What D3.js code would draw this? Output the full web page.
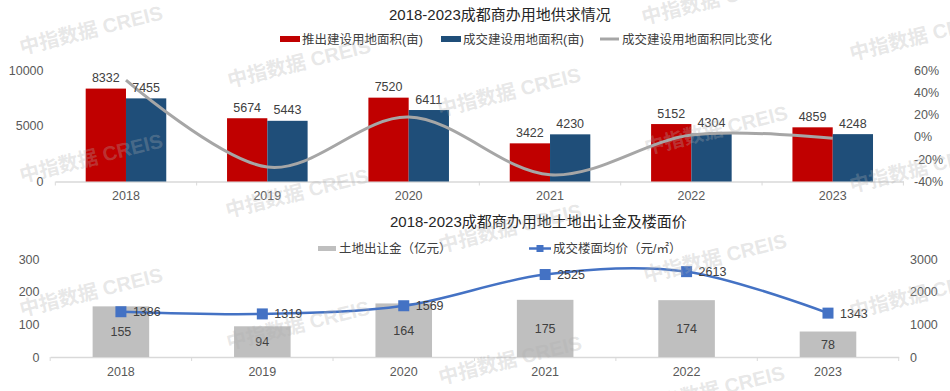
<!DOCTYPE html>
<html><head><meta charset="utf-8">
<script src="https://cdn.jsdelivr.net/npm/d3@7"></script>
<style>
body{margin:0;background:#fff}
svg{display:block}
text{font-family:"Liberation Sans","Noto Sans CJK SC",sans-serif}
</style>
</head><body>
<svg id="c" width="950" height="391"></svg>
<script>
// ---------- data ----------
const years = ["2018","2019","2020","2021","2022","2023"];
const supplyArea = [8332,5674,7520,3422,5152,4859];      // 推出建设用地面积(亩)
const dealArea   = [7455,5443,6411,4230,4304,4248];      // 成交建设用地面积(亩)
const dealYoY    = [51,-27.0,17.8,-34.0,1.7,-1.3];       // 成交建设用地面积同比变化 (%)
const landRevenue = [155,94,164,175,174,78];             // 土地出让金（亿元）
const floorPrice  = [1386,1319,1569,2525,2613,1343];     // 成交楼面均价（元/㎡）
const leftTicks1  = [0,5000,10000];
const rightTicks1 = [-40,-20,0,20,40,60];
const leftTicks2  = [0,100,200,300];
const rightTicks2 = [0,1000,2000,3000];

const title1 = "2018-2023成都商办用地供求情况";
const title2 = "2018-2023成都商办用地土地出让金及楼面价";
const legend1 = ["推出建设用地面积(亩)","成交建设用地面积(亩)","成交建设用地面积同比变化"];
const legend2 = ["土地出让金（亿元）","成交楼面均价（元/㎡）"];

const C_RED="#c00000", C_NAVY="#1f4e79", C_GRAYLINE="#a6a6a6", C_GRAYBAR="#bfbfbf", C_BLUE="#4472c4";
const AXIS_TXT="#595959", LBL_TXT="#404040", AXIS_LINE="#d9d9d9";

const svg = d3.select("#c");
const plain = d => String(d);

function styleAxis(g, fs){
  g.select(".domain").remove();
  g.selectAll("text").attr("fill",AXIS_TXT).style("font-size",fs+"px");
}

// ---------- chart 1 ----------
{
  const x = d3.scaleBand().domain(years).range([55.3,903.4]);
  const y = d3.scaleLinear().domain([0,10000]).range([181.5,70]);
  const yr = d3.scaleLinear().domain([-40,60]).range([181.5,70]);
  const bw = x.bandwidth()*0.285;
  const cx = d => x(d)+x.bandwidth()/2;

  svg.append("text").attr("x",389).attr("y",20).attr("fill","#262626")
    .style("font-size","15px").text(title1);

  // legend
  const lg = svg.append("g");
  lg.append("rect").attr("x",280).attr("y",36).attr("width",20).attr("height",6).attr("fill",C_RED);
  lg.append("text").attr("x",302).attr("y",43.5).text(legend1[0]);
  lg.append("rect").attr("x",441).attr("y",36).attr("width",20).attr("height",6).attr("fill",C_NAVY);
  lg.append("text").attr("x",463).attr("y",43.5).text(legend1[1]);
  lg.append("line").attr("x1",600).attr("x2",619).attr("y1",39).attr("y2",39).attr("stroke",C_GRAYLINE).attr("stroke-width",3);
  lg.append("text").attr("x",622).attr("y",43.5).text(legend1[2]);
  lg.selectAll("text").attr("fill","#404040").style("font-size","12.5px");

  // axes
  const gx = svg.append("g").attr("transform","translate(0,181.5)")
    .call(d3.axisBottom(x).tickSize(0).tickPadding(10));
  gx.select(".domain").attr("stroke",AXIS_LINE).attr("stroke-width",1.3);
  gx.selectAll("text").attr("fill",AXIS_TXT).style("font-size","12.5px");
  const bounds = years.map(d=>x(d)).concat([x.range()[1]]);
  gx.selectAll(".bt").data(bounds).enter().append("line")
    .attr("x1",d=>d).attr("x2",d=>d).attr("y1",0).attr("y2",4).attr("stroke",AXIS_LINE);

  svg.append("g").attr("transform","translate(43.5,0)")
    .call(d3.axisLeft(y).tickValues(leftTicks1).tickFormat(plain).tickSize(0).tickPadding(0))
    .call(g=>styleAxis(g,12.5));
  svg.append("g").attr("transform","translate(914,0)")
    .call(d3.axisRight(yr).tickValues(rightTicks1).tickFormat(d=>d+"%").tickSize(0).tickPadding(0))
    .call(g=>styleAxis(g,12.5));

  // bars
  svg.append("g").selectAll("rect").data(years).enter().append("rect")
    .attr("x",d=>cx(d)-bw).attr("width",bw)
    .attr("y",(d,i)=>y(supplyArea[i])).attr("height",(d,i)=>y(0)-y(supplyArea[i]))
    .attr("fill",C_RED);
  svg.append("g").selectAll("rect").data(years).enter().append("rect")
    .attr("x",d=>cx(d)).attr("width",bw)
    .attr("y",(d,i)=>y(dealArea[i])).attr("height",(d,i)=>y(0)-y(dealArea[i]))
    .attr("fill",C_NAVY);

  // line
  const line = d3.line().x((d,i)=>cx(years[i])).y(d=>yr(d)).curve(d3.curveCardinal.tension(0));
  svg.append("path").datum(dealYoY).attr("d",line).attr("fill","none")
    .attr("stroke",C_GRAYLINE).attr("stroke-width",3);

  // labels
  const lbl = svg.append("g").attr("fill",LBL_TXT).style("font-size","12.5px").attr("text-anchor","middle");
  lbl.selectAll(".a").data(years).enter().append("text")
    .attr("x",d=>cx(d)-bw/2).attr("y",(d,i)=>y(supplyArea[i])-6.5).text((d,i)=>supplyArea[i]);
  lbl.selectAll(".b").data(years).enter().append("text")
    .attr("x",d=>cx(d)+bw/2).attr("y",(d,i)=>y(dealArea[i])-6.5).text((d,i)=>dealArea[i]);
}

// ---------- chart 2 ----------
{
  const x = d3.scaleBand().domain(years).range([50.2,898.7]);
  const y = d3.scaleLinear().domain([0,300]).range([357,259]);
  const yr = d3.scaleLinear().domain([0,3000]).range([357,259]);
  const bw = x.bandwidth()*0.4;
  const cx = d => x(d)+x.bandwidth()/2;

  svg.append("text").attr("x",390).attr("y",227).attr("fill","#262626")
    .style("font-size","15px").text(title2);

  const lg = svg.append("g");
  lg.append("rect").attr("x",318).attr("y",246).attr("width",18).attr("height",5).attr("fill",C_GRAYBAR);
  lg.append("text").attr("x",339).attr("y",252.5).text(legend2[0]);
  lg.append("line").attr("x1",529).attr("x2",551).attr("y1",248.5).attr("y2",248.5).attr("stroke",C_BLUE).attr("stroke-width",2.5);
  lg.append("rect").attr("x",536.5).attr("y",245).attr("width",7).attr("height",7).attr("fill",C_BLUE);
  lg.append("text").attr("x",553).attr("y",252.5).text(legend2[1]);
  lg.selectAll("text").attr("fill","#404040").style("font-size","12.5px");

  const gx = svg.append("g").attr("transform","translate(0,357)")
    .call(d3.axisBottom(x).tickSize(0).tickPadding(10.5));
  gx.select(".domain").attr("stroke",AXIS_LINE).attr("stroke-width",1.3);
  gx.selectAll("text").attr("fill",AXIS_TXT).style("font-size","12.5px");
  const bounds = years.map(d=>x(d)).concat([x.range()[1]]);
  gx.selectAll(".bt").data(bounds).enter().append("line")
    .attr("x1",d=>d).attr("x2",d=>d).attr("y1",0).attr("y2",4).attr("stroke",AXIS_LINE);

  svg.append("g").attr("transform","translate(39.5,0)")
    .call(d3.axisLeft(y).tickValues(leftTicks2).tickFormat(plain).tickSize(0).tickPadding(0))
    .call(g=>styleAxis(g,12.5));
  svg.append("g").attr("transform","translate(910,0)")
    .call(d3.axisRight(yr).tickValues(rightTicks2).tickFormat(plain).tickSize(0).tickPadding(0))
    .call(g=>styleAxis(g,12.5));

  svg.append("g").selectAll("rect").data(years).enter().append("rect")
    .attr("x",d=>cx(d)-bw/2).attr("width",bw)
    .attr("y",(d,i)=>y(landRevenue[i])).attr("height",(d,i)=>y(0)-y(landRevenue[i]))
    .attr("fill",C_GRAYBAR);
  svg.append("g").attr("fill",LBL_TXT).style("font-size","12.5px").attr("text-anchor","middle")
    .selectAll("text").data(years).enter().append("text")
    .attr("x",d=>cx(d)).attr("y",(d,i)=>(y(landRevenue[i])+y(0))/2).attr("dy","0.35em")
    .text((d,i)=>landRevenue[i]);

  const line = d3.line().x((d,i)=>cx(years[i])).y(d=>yr(d)).curve(d3.curveCardinal.tension(0));
  svg.append("path").datum(floorPrice).attr("d",line).attr("fill","none")
    .attr("stroke",C_BLUE).attr("stroke-width",2.5);
  svg.append("g").selectAll("rect").data(years).enter().append("rect")
    .attr("x",d=>cx(d)-5.5).attr("y",(d,i)=>yr(floorPrice[i])-5.5)
    .attr("width",11).attr("height",11).attr("fill",C_BLUE);
  svg.append("g").attr("fill",LBL_TXT).style("font-size","12.5px")
    .selectAll("text").data(years).enter().append("text")
    .attr("x",d=>cx(d)+12).attr("y",(d,i)=>yr(floorPrice[i])).attr("dy","0.35em")
    .text((d,i)=>floorPrice[i]);
}

// ---------- watermarks ----------
const wmCenters = [[91,30],[299,63],[509,92],[713,0],[921,36],
                   [91,158],[297,193],[510,228],[716,130],[921,168],
                   [91,292],[298,325],[510,360],[715,258],[713,390],[921,294]];
svg.append("g").attr("pointer-events","none").selectAll("text").data(wmCenters).enter().append("text")
  .attr("transform",d=>`translate(${d[0]},${d[1]}) rotate(-14)`)
  .attr("text-anchor","middle").attr("dy","0.35em")
  .attr("fill","#b0b0b0").attr("fill-opacity",0.3)
  .style("font-size","20px").style("font-weight","bold")
  .text("中指数据 CREIS");
</script>
</body></html>
